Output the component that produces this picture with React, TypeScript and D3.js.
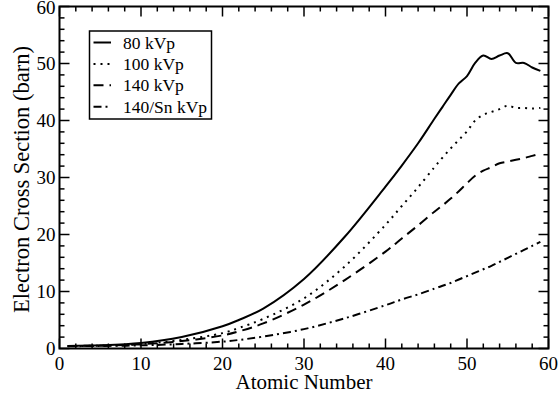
import React from "react";
import * as d3 from "d3";

const atomicNumbers = [1, 5, 10, 15, 20, 22, 25, 30, 35, 40, 42, 44, 46, 47, 48, 49, 50, 51, 52, 53, 54, 55, 56, 57, 58, 59];
const kvp80 = [0.45, 0.55, 0.95, 2.0, 3.9, 5.0, 7.0, 12.2, 19.6, 28.4, 32.1, 36.0, 40.3, 42.4, 44.5, 46.5, 47.8, 50.1, 51.4, 50.8, 51.4, 51.8, 50.1, 50.1, 49.3, 48.7];
const kvp100 = [0.45, 0.5, 0.8, 1.5, 2.7, 3.6, 5.2, 8.8, 14.4, 21.7, 25.0, 28.3, 31.8, 33.5, 35.1, 36.6, 38.1, 40.0, 41.0, 41.5, 42.0, 42.6, 42.2, 42.2, 42.1, 42.2];
const kvp140 = [0.45, 0.5, 0.75, 1.3, 2.3, 3.0, 4.4, 7.7, 12.0, 17.0, 19.3, 21.6, 24.0, 25.1, 26.3, 27.6, 29.0, 30.3, 31.2, 31.8, 32.5, 32.8, 33.1, 33.4, 33.8, 34.2];
const kvp140Sn = [0.4, 0.45, 0.55, 0.8, 1.2, 1.5, 2.1, 3.4, 5.3, 7.6, 8.6, 9.5, 10.5, 11.0, 11.5, 12.1, 12.7, 13.3, 13.9, 14.5, 15.2, 15.9, 16.6, 17.3, 18.0, 18.7];

const seriesNames = ["80 kVp", "100 kVp", "140 kVp", "140/Sn kVp"];
const seriesValues = [kvp80, kvp100, kvp140, kvp140Sn];
const dashes = [null, "2,5", "10,6", "8,4,2,4"];

const xTicks = [0, 10, 20, 30, 40, 50, 60];
const yTicks = [0, 10, 20, 30, 40, 50, 60];
const xTitle = "Atomic Number";
const yTitle = "Electron Cross Section (barn)";

const W = 558, H = 395;
const L = 59.5, R = 548.5, T = 6.5, B = 348.5;
const FONT = "'Liberation Serif', 'Times New Roman', Times, 'DejaVu Serif', serif";

export default function App() {
  const x = d3.scaleLinear().domain([0, 60]).range([L, R]);
  const y = d3.scaleLinear().domain([0, 60]).range([B, T]);
  const minor = d3.range(0, 61, 2).filter((v) => v % 10 !== 0);

  const line = (vals: number[]) =>
    d3.line<number>()
      .x((_, i) => x(atomicNumbers[i]))
      .y((v) => y(v))
      .curve(d3.curveCatmullRom.alpha(0.5))(vals) || "";

  const MAJ = 10, MIN = 5;
  const legX = 89.5, legY = 31, legW = 122, legH = 88;

  return (
    <svg width={W} height={H} style={{ position: "absolute", left: 0, top: 0, background: "#fff", fontFamily: FONT }}>
      <rect x={0} y={0} width={W} height={H} fill="#fff" />
      {seriesValues.map((vals, i) => (
        <path key={i} d={line(vals)} fill="none" stroke="#000" strokeWidth={2}
          strokeDasharray={dashes[i] || undefined} />
      ))}
      <g stroke="#000" strokeWidth={1.5}>
        {xTicks.map((t) => (
          <g key={"xm" + t}>
            <line x1={x(t)} x2={x(t)} y1={B} y2={B - MAJ} />
            <line x1={x(t)} x2={x(t)} y1={T} y2={T + MAJ} />
          </g>
        ))}
        {minor.map((t) => (
          <g key={"xn" + t}>
            <line x1={x(t)} x2={x(t)} y1={B} y2={B - MIN} />
            <line x1={x(t)} x2={x(t)} y1={T} y2={T + MIN} />
          </g>
        ))}
        {yTicks.map((t) => (
          <g key={"ym" + t}>
            <line x1={L} x2={L + MAJ} y1={y(t)} y2={y(t)} />
            <line x1={R} x2={R - MAJ} y1={y(t)} y2={y(t)} />
          </g>
        ))}
        {minor.map((t) => (
          <g key={"yn" + t}>
            <line x1={L} x2={L + MIN} y1={y(t)} y2={y(t)} />
            <line x1={R} x2={R - MIN} y1={y(t)} y2={y(t)} />
          </g>
        ))}
      </g>
      <rect x={L} y={T} width={R - L} height={B - T} fill="none" stroke="#000" strokeWidth={2} />
      {xTicks.map((t) => (
        <text key={"xl" + t} x={x(t)} y={B + 21} textAnchor="middle" fontSize={19}>{t}</text>
      ))}
      {yTicks.map((t) => (
        <text key={"yl" + t} x={L - 4} y={Math.max(y(t) + 6, 14)} textAnchor="end" fontSize={19}>{t}</text>
      ))}
      <text x={(L + R) / 2} y={389} textAnchor="middle" fontSize={21}>{xTitle}</text>
      <text transform={`translate(29,${(T + B) / 2 + 2}) rotate(-90)`} textAnchor="middle" fontSize={22.5}>{yTitle}</text>
      <rect x={legX} y={legY} width={legW} height={legH} fill="#fff" stroke="#000" strokeWidth={1.5} />
      {seriesNames.map((name, i) => {
        const cy = 42.5 + i * 21.4;
        return (
          <g key={name}>
            <line x1={93.5} x2={111} y1={cy} y2={cy} stroke="#000" strokeWidth={2}
              strokeDasharray={dashes[i] || undefined} />
            <text x={123} y={cy + 6} fontSize={17.5}>{name}</text>
          </g>
        );
      })}
    </svg>
  );
}
